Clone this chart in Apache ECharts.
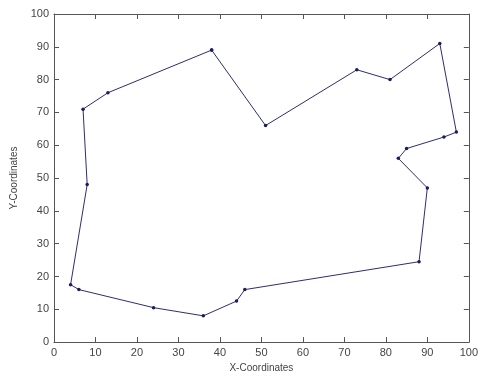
<!DOCTYPE html>
<html>
<head>
<meta charset="utf-8">
<script src="https://cdn.jsdelivr.net/npm/echarts@6/dist/echarts.min.js"></script>
<style>html,body{margin:0;padding:0;background:#fff}#c{width:481px;height:378px}</style>
</head>
<body>
<div id="c"></div>
<script>
const xValues = [38, 51, 73, 81, 93, 97, 94, 85, 83, 90, 88, 46, 44, 36, 24, 6, 4, 8, 7, 13, 38];
const yValues = [89, 66, 83, 80, 91, 64, 62.5, 59, 56, 47, 24.5, 16, 12.5, 8, 10.5, 16, 17.5, 48, 71, 76, 89];
const xTicks = [0,10,20,30,40,50,60,70,80,90,100];
const yTicks = [0,10,20,30,40,50,60,70,80,90,100];
const xName = 'X-Coordinates';
const yName = 'Y-Coordinates';

const pts = xValues.map((x, i) => [x, yValues[i]]);
const chart = echarts.init(document.getElementById('c'));
const lineC = '#555';
const tickStyle = {show:true, inside:true, length:5, lineStyle:{color:lineC, width:1}};
const labelStyle = {color:'#444', fontFamily:'Liberation Sans', fontSize:11};
chart.setOption({
  animation:false,
  backgroundColor:'#fff',
  grid:{left:54, right:11, top:14, bottom:34, containLabel:false},
  xAxis:[
    {type:'value', min:xTicks[0], max:xTicks[xTicks.length-1], interval:10, position:'bottom',
     axisLine:{show:true, onZero:false, lineStyle:{color:lineC}}, axisTick:tickStyle,
     axisLabel:Object.assign({margin:5}, labelStyle), splitLine:{show:false},
     name:xName, nameLocation:'middle', nameGap:17, nameTextStyle:{color:'#444', fontFamily:'Liberation Sans', fontSize:10}},
    {type:'value', min:xTicks[0], max:xTicks[xTicks.length-1], interval:10, position:'top',
     axisLine:{show:true, onZero:false, lineStyle:{color:lineC}}, axisTick:tickStyle,
     axisLabel:{show:false}, splitLine:{show:false}}
  ],
  yAxis:[
    {type:'value', min:yTicks[0], max:yTicks[yTicks.length-1], interval:10, position:'left',
     axisLine:{show:true, onZero:false, lineStyle:{color:lineC}}, axisTick:tickStyle,
     axisLabel:Object.assign({margin:5}, labelStyle), splitLine:{show:false},
     name:yName, nameLocation:'middle', nameGap:33, nameTextStyle:{color:'#444', fontFamily:'Liberation Sans', fontSize:10}},
    {type:'value', min:yTicks[0], max:yTicks[yTicks.length-1], interval:10, position:'right',
     axisLine:{show:true, onZero:false, lineStyle:{color:lineC}}, axisTick:tickStyle,
     axisLabel:{show:false}, splitLine:{show:false}}
  ],
  series:[{
    type:'line', xAxisIndex:0, yAxisIndex:0, data:pts,
    symbol:'circle', symbolSize:3.5, showSymbol:true,
    lineStyle:{color:'#2e2e6e', width:1},
    itemStyle:{color:'#1c1c5c'}
  }]
});
</script>
</body>
</html>
